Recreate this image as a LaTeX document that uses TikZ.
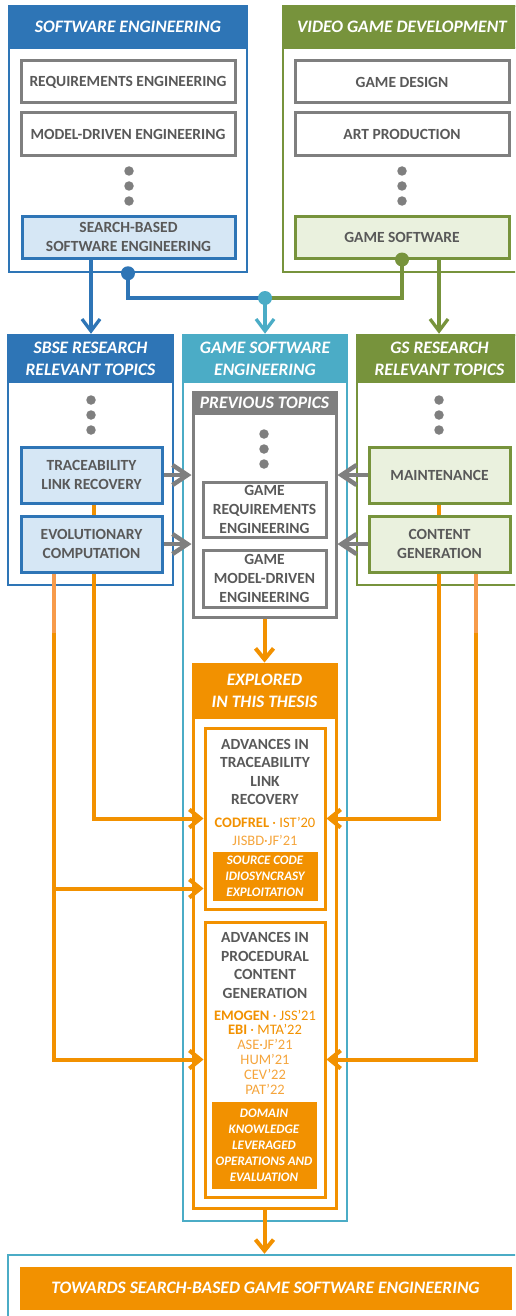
\documentclass[tikz,border=0pt]{standalone}
\usepackage{fontspec}
\setmainfont{Carlito}
\usetikzlibrary{arrows.meta}

\definecolor{seblue}{RGB}{46,117,182}
\definecolor{vgreen}{RGB}{119,147,60}
\definecolor{gteal}{RGB}{75,172,198}
\definecolor{mgray}{RGB}{127,127,127}
\definecolor{tgray}{RGB}{89,89,89}
\definecolor{thor}{RGB}{242,145,0}
\definecolor{thorlight}{RGB}{247,155,75}
\definecolor{citelight}{RGB}{245,165,60}
\definecolor{lblue}{RGB}{214,231,245}
\definecolor{lgreen}{RGB}{234,241,222}

\newcommand\FHead{\fontsize{17.5}{22}\selectfont\bfseries\itshape}
\newcommand\FTopic{\fontsize{15.5}{18.6}\selectfont\bfseries}
\newcommand\FCiteA{\fontsize{14.5}{18}\selectfont}
\newcommand\FCiteB{\fontsize{14.5}{14.8}\selectfont}
\newcommand\FInner{\fontsize{13}{16}\selectfont\bfseries\itshape}

\begin{document}
\begin{tikzpicture}[x=1pt,y=-1pt,
  frame/.style={draw=#1, line width=2.5pt, inner sep=0pt},
  hdr/.style={fill=#1, draw=#1, line width=2.5pt, text=white, font=\FHead,
    align=center, inner sep=0pt},
  topic/.style={draw=mgray, line width=3pt, fill=white, text=tgray,
    font=\FTopic, align=center, inner sep=0pt},
  sbox/.style={topic, draw=seblue, fill=lblue},
  gbox/.style={topic, draw=vgreen, fill=lgreen},
  obox/.style={draw=thor, line width=3pt, fill=white, inner sep=0pt},
  ofill/.style={fill=thor, draw=thor, line width=1pt, text=white,
    font=\FInner, align=center, inner sep=0pt},
  txt/.style={text=tgray, font=\FTopic, align=center, inner sep=0pt},
  dotg/.style={circle, fill=mgray, inner sep=0pt, minimum size=9.5pt},
  jdot/.style={circle, fill=#1, inner sep=0pt, minimum size=14pt},
  conn/.style={draw=#1, line width=3.3pt},
  arr/.style={conn=#1, -{Straight Barb[length=12pt,width=18pt]}},
  oline/.style={draw=thor, line width=4pt},
  oarr/.style={oline, -{Straight Barb[length=11pt,width=18pt]}},
  garr/.style={draw=mgray, line width=4.5pt, -{Straight Barb[length=15pt,width=20pt]}}
]
\clip (0,0) rectangle (515,1316);

% ---------- software engineering ----------
\node[frame=seblue, minimum width=238pt, minimum height=266pt] (se) at (128,139) {};
\node[hdr=seblue, minimum width=238pt, minimum height=42pt] (seh) at (128,27) {SOFTWARE ENGINEERING};
\node[topic, minimum width=214pt, minimum height=42pt] (re) at (128,82) {REQUIREMENTS ENGINEERING};
\node[topic, minimum width=214pt, minimum height=43pt] (mde) at (128,134.5) {MODEL-DRIVEN ENGINEERING};
\node[dotg] (sed1) at (129,171) {};
\node[dotg] (sed2) at (129,186) {};
\node[dotg] (sed3) at (129,201) {};
\node[sbox, minimum width=213pt, minimum height=42pt] (sbse) at (128.5,237) {SEARCH-BASED\\SOFTWARE ENGINEERING};

% ---------- video game development ----------
\node[frame=vgreen, minimum width=238pt, minimum height=266pt] (vgd) at (402,139) {};
\node[hdr=vgreen, minimum width=238pt, minimum height=42pt] (vgdh) at (402,27) {VIDEO GAME DEVELOPMENT};
\node[topic, minimum width=214pt, minimum height=42pt] (gd) at (402,82) {GAME DESIGN};
\node[topic, minimum width=214pt, minimum height=43pt] (ap) at (402,134.5) {ART PRODUCTION};
\node[dotg] (vgd1) at (402,171) {};
\node[dotg] (vgd2) at (402,186) {};
\node[dotg] (vgd3) at (402,201) {};
\node[gbox, minimum width=214pt, minimum height=42pt] (gs) at (402,237) {GAME SOFTWARE};

% ---------- second row frames ----------
\node[frame=seblue, minimum width=165pt, minimum height=250pt] (sbser) at (90.5,460) {};
\node[hdr=seblue, minimum width=165pt, minimum height=47pt] (sbserh) at (90.5,358.5) {SBSE RESEARCH\\RELEVANT TOPICS};
\node[dotg] (sbd1) at (91,400) {};
\node[dotg] (sbd2) at (91,415) {};
\node[dotg] (sbd3) at (91,430) {};

\node[frame=vgreen, minimum width=165pt, minimum height=250pt] (gsr) at (439.5,460) {};
\node[hdr=vgreen, minimum width=165pt, minimum height=47pt] (gsrh) at (439.5,358.5) {GS RESEARCH\\RELEVANT TOPICS};
\node[dotg] (gsd1) at (439,400) {};
\node[dotg] (gsd2) at (439,415) {};
\node[dotg] (gsd3) at (439,430) {};

\node[frame=gteal, minimum width=164pt, minimum height=886pt] (gse) at (265,778) {};
\node[hdr=gteal, minimum width=164pt, minimum height=47pt] (gseh) at (265,358.5) {GAME SOFTWARE\\ENGINEERING};

% ---------- top connectors ----------
\coordinate (sbsel) at ([xshift=-37.5pt]sbse.south);
\coordinate (gsr0) at ([xshift=37pt]gs.south);
\coordinate (hub) at (265,298);
\draw[arr=seblue] (sbsel) -- (sbsel |- sbser.north);
\draw[conn=seblue] (se.south) |- (hub);
\draw[conn=vgreen] (gs.south) |- (hub);
\draw[arr=gteal] (hub) -- (hub |- gse.north);
\draw[arr=vgreen] (gsr0) -- (gsr0 |- gsr.north);
\node[jdot=seblue] (sedot) at (se.south) {};
\node[jdot=vgreen] (gsdot) at (gs.south) {};
\node[jdot=gteal] (hubdot) at (hub) {};

% ---------- previous topics ----------
\node[frame=mgray, line width=3pt, minimum width=143pt, minimum height=225pt] (pt) at (264.5,504.5) {};
\node[hdr=mgray, line width=3pt, minimum width=143pt, minimum height=21pt] (pth) at (264.5,402.5) {PREVIOUS TOPICS};
\node[dotg] (ptd1) at (264,434) {};
\node[dotg] (ptd2) at (264,449) {};
\node[dotg] (ptd3) at (264,464) {};
\node[topic, minimum width=123pt, minimum height=55pt] (gre) at (264.5,509.5) {GAME\\REQUIREMENTS\\ENGINEERING};
\node[topic, minimum width=123pt, minimum height=57pt] (gmde) at (264.5,578.5) {GAME\\MODEL-DRIVEN\\ENGINEERING};

% ---------- explored in this thesis ----------
\node[frame=thor, line width=3pt, minimum width=143pt, minimum height=544pt] (expl) at (264.5,936) {};
\node[hdr=thor, line width=3pt, minimum width=143pt, minimum height=53pt] (explh) at (264.5,690.5) {EXPLORED\\IN THIS THESIS};
\draw[oarr] (pt.south) -- (expl.north);

\node[obox, minimum width=120pt, minimum height=181pt] (atlr) at (265,818.5) {};
\node[txt] (atlrt) at (265,772) {ADVANCES IN\\TRACEABILITY\\LINK\\RECOVERY};
\node[inner sep=0pt, align=center, font=\FCiteA, text=thor] (atlrc) at (265,831)
  {\textbf{CODFREL} · IST’20\\\textcolor{citelight}{JISBD·JF’21}};
\node[ofill, minimum width=104pt, minimum height=48pt] (scie) at (265,876) {SOURCE CODE\\IDIOSYNCRASY\\EXPLOITATION};

\node[obox, minimum width=120pt, minimum height=275pt] (apcg) at (265,1059.5) {};
\node[txt] (apcgt) at (265,965.5) {ADVANCES IN\\PROCEDURAL\\CONTENT\\GENERATION};
\node[inner sep=0pt, align=center, font=\FCiteB, text=citelight] (apcgc) at (265,1052)
  {\textcolor{thor}{\textbf{EMOGEN} · JSS’21}\\\textcolor{thor}{\textbf{EBI} · MTA’22}\\ASE·JF’21\\HUM’21\\CEV’22\\PAT’22};
\node[ofill, minimum width=104pt, minimum height=86pt] (dk) at (264,1145) {DOMAIN\\KNOWLEDGE\\LEVERAGED\\OPERATIONS AND\\EVALUATION};

% ---------- towards ----------
\node[frame=gteal, minimum width=515pt, minimum height=66pt] (tow) at (265.5,1288) {};
\node[ofill, font=\FHead, minimum width=491pt, minimum height=42pt] (towi) at (265.5,1288) {TOWARDS SEARCH-BASED GAME SOFTWARE ENGINEERING};
\draw[oarr] (expl.south) -- (expl.south |- tow.north);

% ---------- orange links into the explored topics ----------
\coordinate (tlrl) at (94,503);
\coordinate (ecl) at (54,572);
\coordinate (mtr) at (439,503);
\coordinate (cgr) at (476,572);
\coordinate (atlrlow) at ([yshift=-70pt]atlr.west);
\draw[oarr] (tlrl) |- (atlr.west);
\draw[oarr] (ecl) |- (apcg.west);
\draw[oarr] (ecl |- atlrlow) -- (atlrlow);
\draw[oarr] (mtr) |- (atlr.east);
\draw[oarr] (cgr) |- (apcg.east);
\draw[draw=thorlight, line width=4pt] (ecl) -- ++(0,61);
\draw[draw=thorlight, line width=4pt] (cgr) -- ++(0,61);

% ---------- research topic boxes ----------
\node[sbox, minimum width=141pt, minimum height=56pt] (tlr) at (91.5,475) {TRACEABILITY\\LINK RECOVERY};
\node[sbox, minimum width=141pt, minimum height=56pt] (ec) at (91.5,544) {EVOLUTIONARY\\COMPUTATION};
\node[gbox, minimum width=141pt, minimum height=56pt] (mt) at (439.5,475) {MAINTENANCE};
\node[gbox, minimum width=141pt, minimum height=56pt] (cg) at (439.5,544) {CONTENT\\GENERATION};

% ---------- links into previous topics ----------
\draw[garr] (tlr.east) -- (tlr.east -| pt.west);
\draw[garr] (ec.east) -- (ec.east -| pt.west);
\draw[garr] (mt.west) -- (mt.west -| pt.east);
\draw[garr] (cg.west) -- (cg.west -| pt.east);
\end{tikzpicture}
\end{document}
